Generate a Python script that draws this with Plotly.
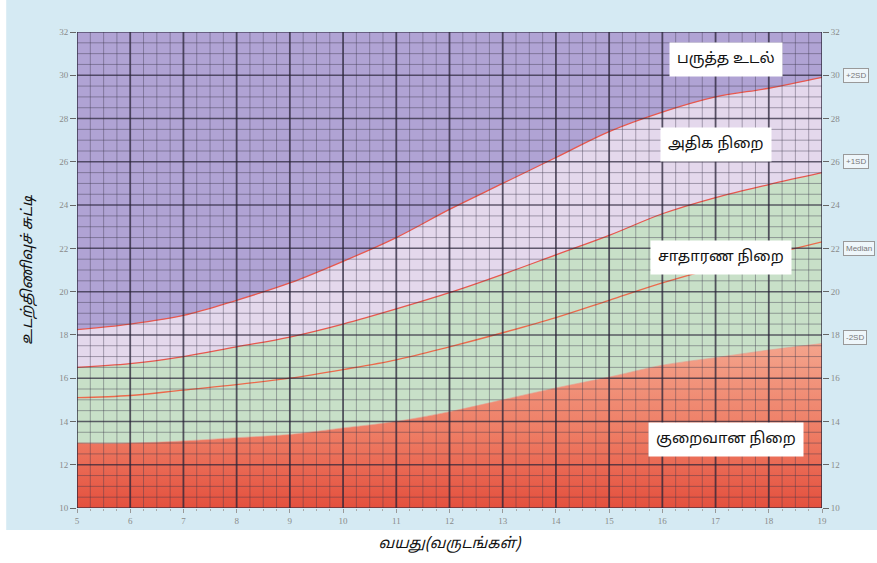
import numpy as np
import plotly.graph_objects as go

# ages (years)
age = [5, 6, 7, 8, 9, 10, 11, 12, 13, 14, 15, 16, 17, 18, 19]

# BMI reference curves
sd2_neg = [13.0, 13.0, 13.1, 13.25, 13.4, 13.7, 14.0, 14.45, 15.0, 15.55, 16.05, 16.6, 16.95, 17.3, 17.6]
median = [15.1, 15.2, 15.45, 15.7, 16.0, 16.4, 16.85, 17.45, 18.1, 18.8, 19.6, 20.4, 21.1, 21.7, 22.3]
sd1_pos = [16.5, 16.67, 17.0, 17.45, 17.9, 18.5, 19.2, 19.95, 20.8, 21.7, 22.6, 23.6, 24.35, 24.95, 25.5]
sd2_pos = [18.24, 18.5, 18.9, 19.6, 20.4, 21.4, 22.5, 23.8, 25.0, 26.2, 27.4, 28.3, 29.0, 29.4, 29.9]

# zone labels
zone_names = ['பருத்த உடல்', 'அதிக நிறை', 'சாதாரண நிறை', 'குறைவான நிறை']
zone_x = [17.2, 17.0, 17.1, 17.2]
zone_y = [30.75, 26.8, 21.6, 13.15]

# right-hand curve labels
sd_names = ['+2SD', '+1SD', 'Median', '-2SD']
sd_y = [30, 26, 22, 17.9]

y_ticks = list(range(10, 33, 2))

TAMIL = 'Noto Sans Tamil, Lohit Tamil, Noto Sans, DejaVu Sans, sans-serif'
PURPLE = '#b0a3d4'

fig = go.Figure()

fig.add_trace(go.Scatter(
    x=age, y=sd2_neg, mode='lines', line=dict(color='#f29a82', width=0.6, shape='spline'),
    fill='tozeroy',
    fillgradient=dict(type='vertical', start=10, stop=17.6,
                      colorscale=[[0, '#e4503e'], [0.45, '#ee7c64'], [1, '#f4a48c']]),
    hoverinfo='skip', showlegend=False
))
fig.add_trace(go.Scatter(
    x=age, y=sd1_pos, mode='lines', line=dict(color='#e8584e', width=1.3, shape='spline'),
    fill='tonexty', fillcolor='#c8e0c8',
    hoverinfo='skip', showlegend=False
))
fig.add_trace(go.Scatter(
    x=age, y=sd2_pos, mode='lines', line=dict(color='#e8584e', width=1.3, shape='spline'),
    fill='tonexty', fillcolor='#e4d8ec',
    hoverinfo='skip', showlegend=False
))
fig.add_trace(go.Scatter(
    x=age, y=median, mode='lines', line=dict(color='#ec6a4c', width=1.3, shape='spline'),
    yaxis='y2', hoverinfo='skip', showlegend=False
))

# graph-paper grid drawn over the colour bands
shapes = []
for v in np.arange(5, 19.001, 0.25):
    major = abs(v - round(v)) < 1e-9
    shapes.append(dict(type='line', xref='x', yref='y', x0=v, x1=v, y0=10, y1=32, layer='above',
                       line=dict(color='rgba(40,35,55,0.75)' if major else 'rgba(60,55,75,0.4)',
                                 width=1.8 if major else 1)))
for v in np.arange(10, 32.001, 0.5):
    major = abs(v / 2 - round(v / 2)) < 1e-9
    shapes.append(dict(type='line', xref='x', yref='y', x0=5, x1=19, y0=v, y1=v, layer='above',
                       line=dict(color='rgba(40,35,55,0.7)' if major else 'rgba(60,55,75,0.42)',
                                 width=1.5 if major else 1)))
# white strips around the light-blue page
shapes.append(dict(type='rect', xref='paper', yref='paper', x0=-0.2, x1=1.2, y0=-0.3, y1=-0.046,
                   fillcolor='white', line=dict(width=0), layer='below'))
shapes.append(dict(type='rect', xref='paper', yref='paper', x0=-0.2, x1=-0.095, y0=-0.3, y1=1.2,
                   fillcolor='white', line=dict(width=0), layer='below'))

annotations = []
for name, xx, yy in zip(zone_names, zone_x, zone_y):
    annotations.append(dict(x=xx, y=yy, xref='x', yref='y', text=name, showarrow=False,
                            font=dict(family=TAMIL, size=15, color='#111'),
                            bgcolor='white', borderpad=7))
for name, yy in zip(sd_names, sd_y):
    annotations.append(dict(x=1.028, y=yy, xref='paper', yref='y', text=name, showarrow=False,
                            xanchor='left', font=dict(family='Liberation Sans', size=8, color='#777'),
                            bgcolor='#eef6fa', bordercolor='#999', borderwidth=1, borderpad=2))

tick_font = dict(family='Liberation Serif', size=9, color='#8a8a8a')

fig.update_layout(
    width=877, height=563,
    margin=dict(l=77, r=55, t=32, b=55),
    paper_bgcolor='#d5eaf3',
    plot_bgcolor=PURPLE,
    shapes=shapes,
    annotations=annotations,
    xaxis=dict(range=[5, 19], dtick=1, showgrid=False, zeroline=False,
               ticks='outside', ticklen=4, tickcolor='#999', tickfont=tick_font,
               minor=dict(dtick=0.25, ticks='outside', ticklen=2, tickcolor='#aaa'),
               title=dict(text='<i>வயது(வருடங்கள்)</i>', font=dict(family=TAMIL, size=15, color='#111'),
                          standoff=12)),
    yaxis=dict(range=[10, 32], tickvals=y_ticks, showgrid=False, zeroline=False,
               ticks='outside', ticklen=6, tickcolor='#666', tickfont=tick_font,
               title=dict(text='<i>உடற்திணிவுச் சுட்டி</i>', font=dict(family=TAMIL, size=15, color='#111'),
                          standoff=22)),
    yaxis2=dict(range=[10, 32], tickvals=y_ticks, overlaying='y', side='right', showgrid=False,
                zeroline=False, ticks='outside', ticklen=6, tickcolor='#666', tickfont=tick_font),
)

fig.write_html("out.html", config={'displayModeBar': False},
               post_script="document.body.style.margin='0';")
